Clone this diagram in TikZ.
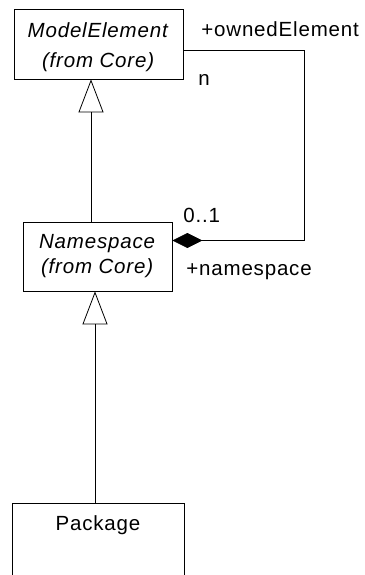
\documentclass[tikz,border=0pt]{standalone}
\usepackage{fontspec}
\setmainfont{Liberation Sans}[LetterSpace=4.0]
\usepackage{tikz}
\usetikzlibrary{arrows.meta}

\begin{document}
\begin{tikzpicture}[x=1pt, y=-1pt, line width=0.8pt,
  umlbox/.style={draw, rectangle, inner sep=0pt, align=center, font={\fontsize{20.5}{25}\selectfont}},
  rolelabel/.style={inner sep=0pt, font={\fontsize{20.5}{23}\selectfont}},
  inherit/.style={-{Triangle[open, length=33pt, width=25pt]}},
  compose/.style={-{Diamond[length=30pt, width=15pt]}}]
\useasboundingbox (0,0) rectangle (364,575);
% Class boxes
\node[umlbox, minimum width=169pt, minimum height=70pt] (element) at (98.5,44)
  {\rule{0pt}{22pt}\textit{ModelElement}\\[5pt]\textit{(from Core)}};
\node[umlbox, minimum width=149pt, minimum height=69pt] (namespace) at (97.5,256.5)
  {\textit{Namespace}\\\textit{(from Core)}};
\node[umlbox, minimum width=172pt, text height=15pt, text depth=60pt, inner ysep=12pt, anchor=north] (package) at (98,503) {Package};

% Generalizations
\draw[inherit] ([xshift=-6.5pt]namespace.north) -- ([xshift=-6.5pt]namespace.north |- element.south);
\draw[inherit] ([xshift=-3pt]package.north) -- ([xshift=-3pt]package.north |- namespace.south);

% Composition
\draw[compose] ([yshift=-6pt]element.east) -- ++(121pt,0) |- ([yshift=16pt]namespace.east);
\node[rolelabel, anchor=base west] (owned) at (201,37) {+ownedElement};
\node[rolelabel, anchor=base west] (many) at (198,86) {n};
\node[rolelabel, anchor=base west] (single) at (183,222) {0..1};
\node[rolelabel, anchor=base west] (nsrole) at (186,275) {+namespace};
\end{tikzpicture}
\end{document}
